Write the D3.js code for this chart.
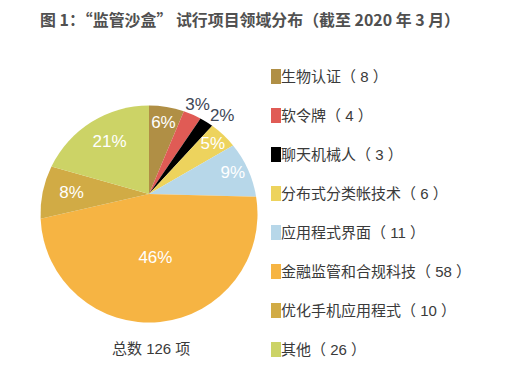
<!DOCTYPE html>
<html><head><meta charset="utf-8">
<script src="https://cdn.jsdelivr.net/npm/d3@7/dist/d3.min.js"></script>
<style>
body{margin:0;background:#fff;}
text{font-family:"Liberation Sans","Noto Sans CJK SC",sans-serif;}
text.title{font-family:"Noto Sans CJK SC",sans-serif;}
</style></head>
<body>
<svg id="c" width="518" height="379"></svg>
<script>
const categories = ["生物认证","软令牌","聊天机械人","分布式分类帐技术","应用程式界面","金融监管和合规科技","优化手机应用程式","其他"];
const counts = [8,4,3,6,11,58,10,26];
const percentLabels = ["6%","3%","2%","5%","9%","46%","8%","21%"];
const colors = ["#B08F45","#E05B55","#000000","#EDD35D","#B7D7E9","#F6B443","#D1AB45","#CCD366"];
const titleText = "图 1：“监管沙盒” 试行项目领域分布（截至 2020 年 3 月）";
const totalText = "总数 126 项";

const svg = d3.select("#c");
// title
svg.append("text").attr("class","title").attr("x",40).attr("y",26)
  .attr("font-size",16).attr("font-weight","bold").attr("fill","#505050")
  .attr("textLength",420).attr("lengthAdjust","spacingAndGlyphs")
  .text(titleText);

// pie geometry: slice vertex offset above the outline circle centre
const cx = 149, cy = 214, R = 108.5, vOff = 20;
const pie = d3.pie().sort(null).value(d=>d)(counts);

function rayLen(a){ const c=Math.cos(a); return -vOff*c + Math.sqrt(vOff*vOff*c*c - vOff*vOff + R*R); }
function pt(a, t){ return [cx + t*Math.sin(a), cy - vOff - t*Math.cos(a)]; }

const g = svg.append("g");
pie.forEach((d,i)=>{
  const p0 = pt(d.startAngle, rayLen(d.startAngle));
  const p1 = pt(d.endAngle, rayLen(d.endAngle));
  const a0 = Math.atan2(p0[1]-cy, p0[0]-cx), a1 = Math.atan2(p1[1]-cy, p1[0]-cx);
  let sweep = a1 - a0; while(sweep<0) sweep += 2*Math.PI;
  const p = d3.path();
  p.moveTo(cx, cy - vOff);
  p.lineTo(p0[0], p0[1]);
  p.arc(cx, cy, R, a0, a0+sweep, false);
  p.closePath();
  g.append("path").attr("d", p.toString()).attr("fill", colors[i]);
});

// percent labels
const labelK = [0.82, 1.12, 1.15, 0.86, 0.85, 0.5, 0.73, 0.71];
pie.forEach((d,i)=>{
  let a = (d.startAngle+d.endAngle)/2;
  if(i===2) a += 0.08;
  const q = pt(a, rayLen(a)*labelK[i]);
  const outside = labelK[i] > 1;
  svg.append("text").attr("x",q[0]).attr("y",q[1])
    .attr("text-anchor","middle").attr("dominant-baseline","central")
    .attr("font-size",17).attr("fill", outside ? "#3d4656" : "#ffffff")
    .text(percentLabels[i]);
});

// legend
const ly = d3.scalePoint().domain(d3.range(categories.length)).range([69, 342]);
const lg = svg.append("g");
categories.forEach((c,i)=>{
  const y = ly(i);
  lg.append("rect").attr("x",271).attr("y",y).attr("width",10).attr("height",15).attr("fill",colors[i]);
  lg.append("text").attr("x",281).attr("y",y+13).attr("font-size",15).attr("fill","#3a3a3a")
    .text(c + "（ " + counts[i] + " ）");
});

// total
svg.append("text").attr("x",112).attr("y",354).attr("font-size",15).attr("fill","#3a3a3a").text(totalText);
</script>
</body></html>
